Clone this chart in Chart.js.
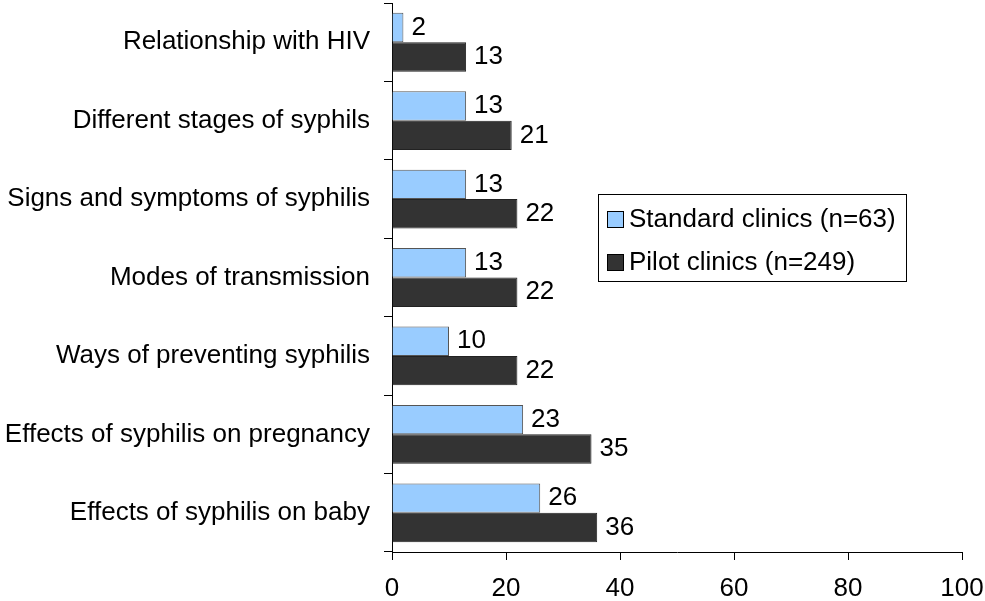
<!DOCTYPE html>
<html>
<head>
<meta charset="utf-8">
<script src="https://cdn.jsdelivr.net/npm/chart.js@4"></script>
<style>
  html, body { margin: 0; padding: 0; background: #fff; }
  #wrap { width: 985px; height: 601px; }
</style>
</head>
<body>
<div id="wrap"><canvas id="myChart" width="985" height="601"></canvas></div>
<script>
const categories = [
  'Relationship with HIV',
  'Different stages of syphils',
  'Signs and symptoms of syphilis',
  'Modes of transmission',
  'Ways of preventing syphilis',
  'Effects of syphilis on pregnancy',
  'Effects of syphilis on baby'
];
const standardValues = [2, 13, 13, 13, 10, 23, 26];
const pilotValues = [13, 21, 22, 22, 22, 35, 36];
const seriesLabels = ['Standard clinics (n=63)', 'Pilot clinics (n=249)'];
const xTicks = [0, 20, 40, 60, 80, 100];

const FONT = 'Liberation Sans, Arial, sans-serif';
const ctx = document.getElementById('myChart');

// value labels to the right of each bar
const valueLabels = {
  id: 'valueLabels',
  afterDatasetsDraw(chart) {
    const c = chart.ctx;
    c.save();
    c.font = '26px ' + FONT;
    c.fillStyle = '#000';
    c.textAlign = 'left';
    c.textBaseline = 'middle';
    chart.data.datasets.forEach((ds, i) => {
      chart.getDatasetMeta(i).data.forEach((bar, j) => {
        c.fillText(String(ds.data[j]), bar.x + 8, bar.y);
      });
    });
    c.restore();
  }
};

// boxed legend on the right
const boxLegend = {
  id: 'boxLegend',
  afterDraw(chart) {
    const c = chart.ctx;
    const left = 598, top = 194, w = 308, h = 87;
    c.save();
    c.fillStyle = '#fff';
    c.fillRect(left, top, w, h);
    c.strokeStyle = '#000';
    c.lineWidth = 1;
    c.strokeRect(left + 0.5, top + 0.5, w, h);
    c.font = '26px ' + FONT;
    c.textBaseline = 'middle';
    chart.data.datasets.forEach((ds, i) => {
      const cy = top + 25 + i * 43;
      c.fillStyle = ds.backgroundColor;
      c.fillRect(607, cy - 8, 16, 16);
      c.strokeStyle = '#000';
      c.strokeRect(607.5, cy - 7.5, 16, 16);
      c.fillStyle = '#000';
      c.fillText(ds.label, 629, cy + 1);
    });
    c.restore();
  }
};

new Chart(ctx, {
  type: 'bar',
  data: {
    labels: categories,
    datasets: [
      {
        label: seriesLabels[0],
        data: standardValues,
        backgroundColor: '#99ccff',
        borderColor: '#555555',
        borderWidth: 1,
        categoryPercentage: 0.75,
        barPercentage: 1.0
      },
      {
        label: seriesLabels[1],
        data: pilotValues,
        backgroundColor: '#333333',
        borderColor: '#222222',
        borderWidth: 1,
        categoryPercentage: 0.75,
        barPercentage: 1.0
      }
    ]
  },
  options: {
    indexAxis: 'y',
    responsive: false,
    animation: false,
    layout: { padding: { top: 3, right: 23, left: 0, bottom: 0 } },
    plugins: {
      legend: { display: false },
      tooltip: { enabled: false }
    },
    scales: {
      x: {
        min: 0,
        max: 100,
        afterBuildTicks(scale) {
          scale.ticks = xTicks.map(v => ({ value: v }));
        },
        afterFit(scale) {
          scale.height = 49;
          scale.paddingLeft = 0;
          scale.paddingRight = 0;
        },
        grid: {
          drawOnChartArea: false,
          drawTicks: true,
          tickLength: 8,
          color: '#000'
        },
        border: { color: '#000', width: 1 },
        ticks: {
          color: '#000',
          font: { family: FONT, size: 26 },
          padding: 13,
          maxRotation: 0
        }
      },
      y: {
        afterFit(scale) {
          scale.width = 392;
          scale.paddingTop = 0;
          scale.paddingBottom = 0;
        },
        grid: {
          offset: true,
          drawOnChartArea: false,
          drawTicks: true,
          tickLength: 8,
          color: '#000'
        },
        border: { color: '#000', width: 1 },
        ticks: {
          color: '#000',
          font: { family: FONT, size: 26 },
          padding: 14,
          autoSkip: false
        }
      }
    }
  },
  plugins: [valueLabels, boxLegend]
});
</script>
</body>
</html>
